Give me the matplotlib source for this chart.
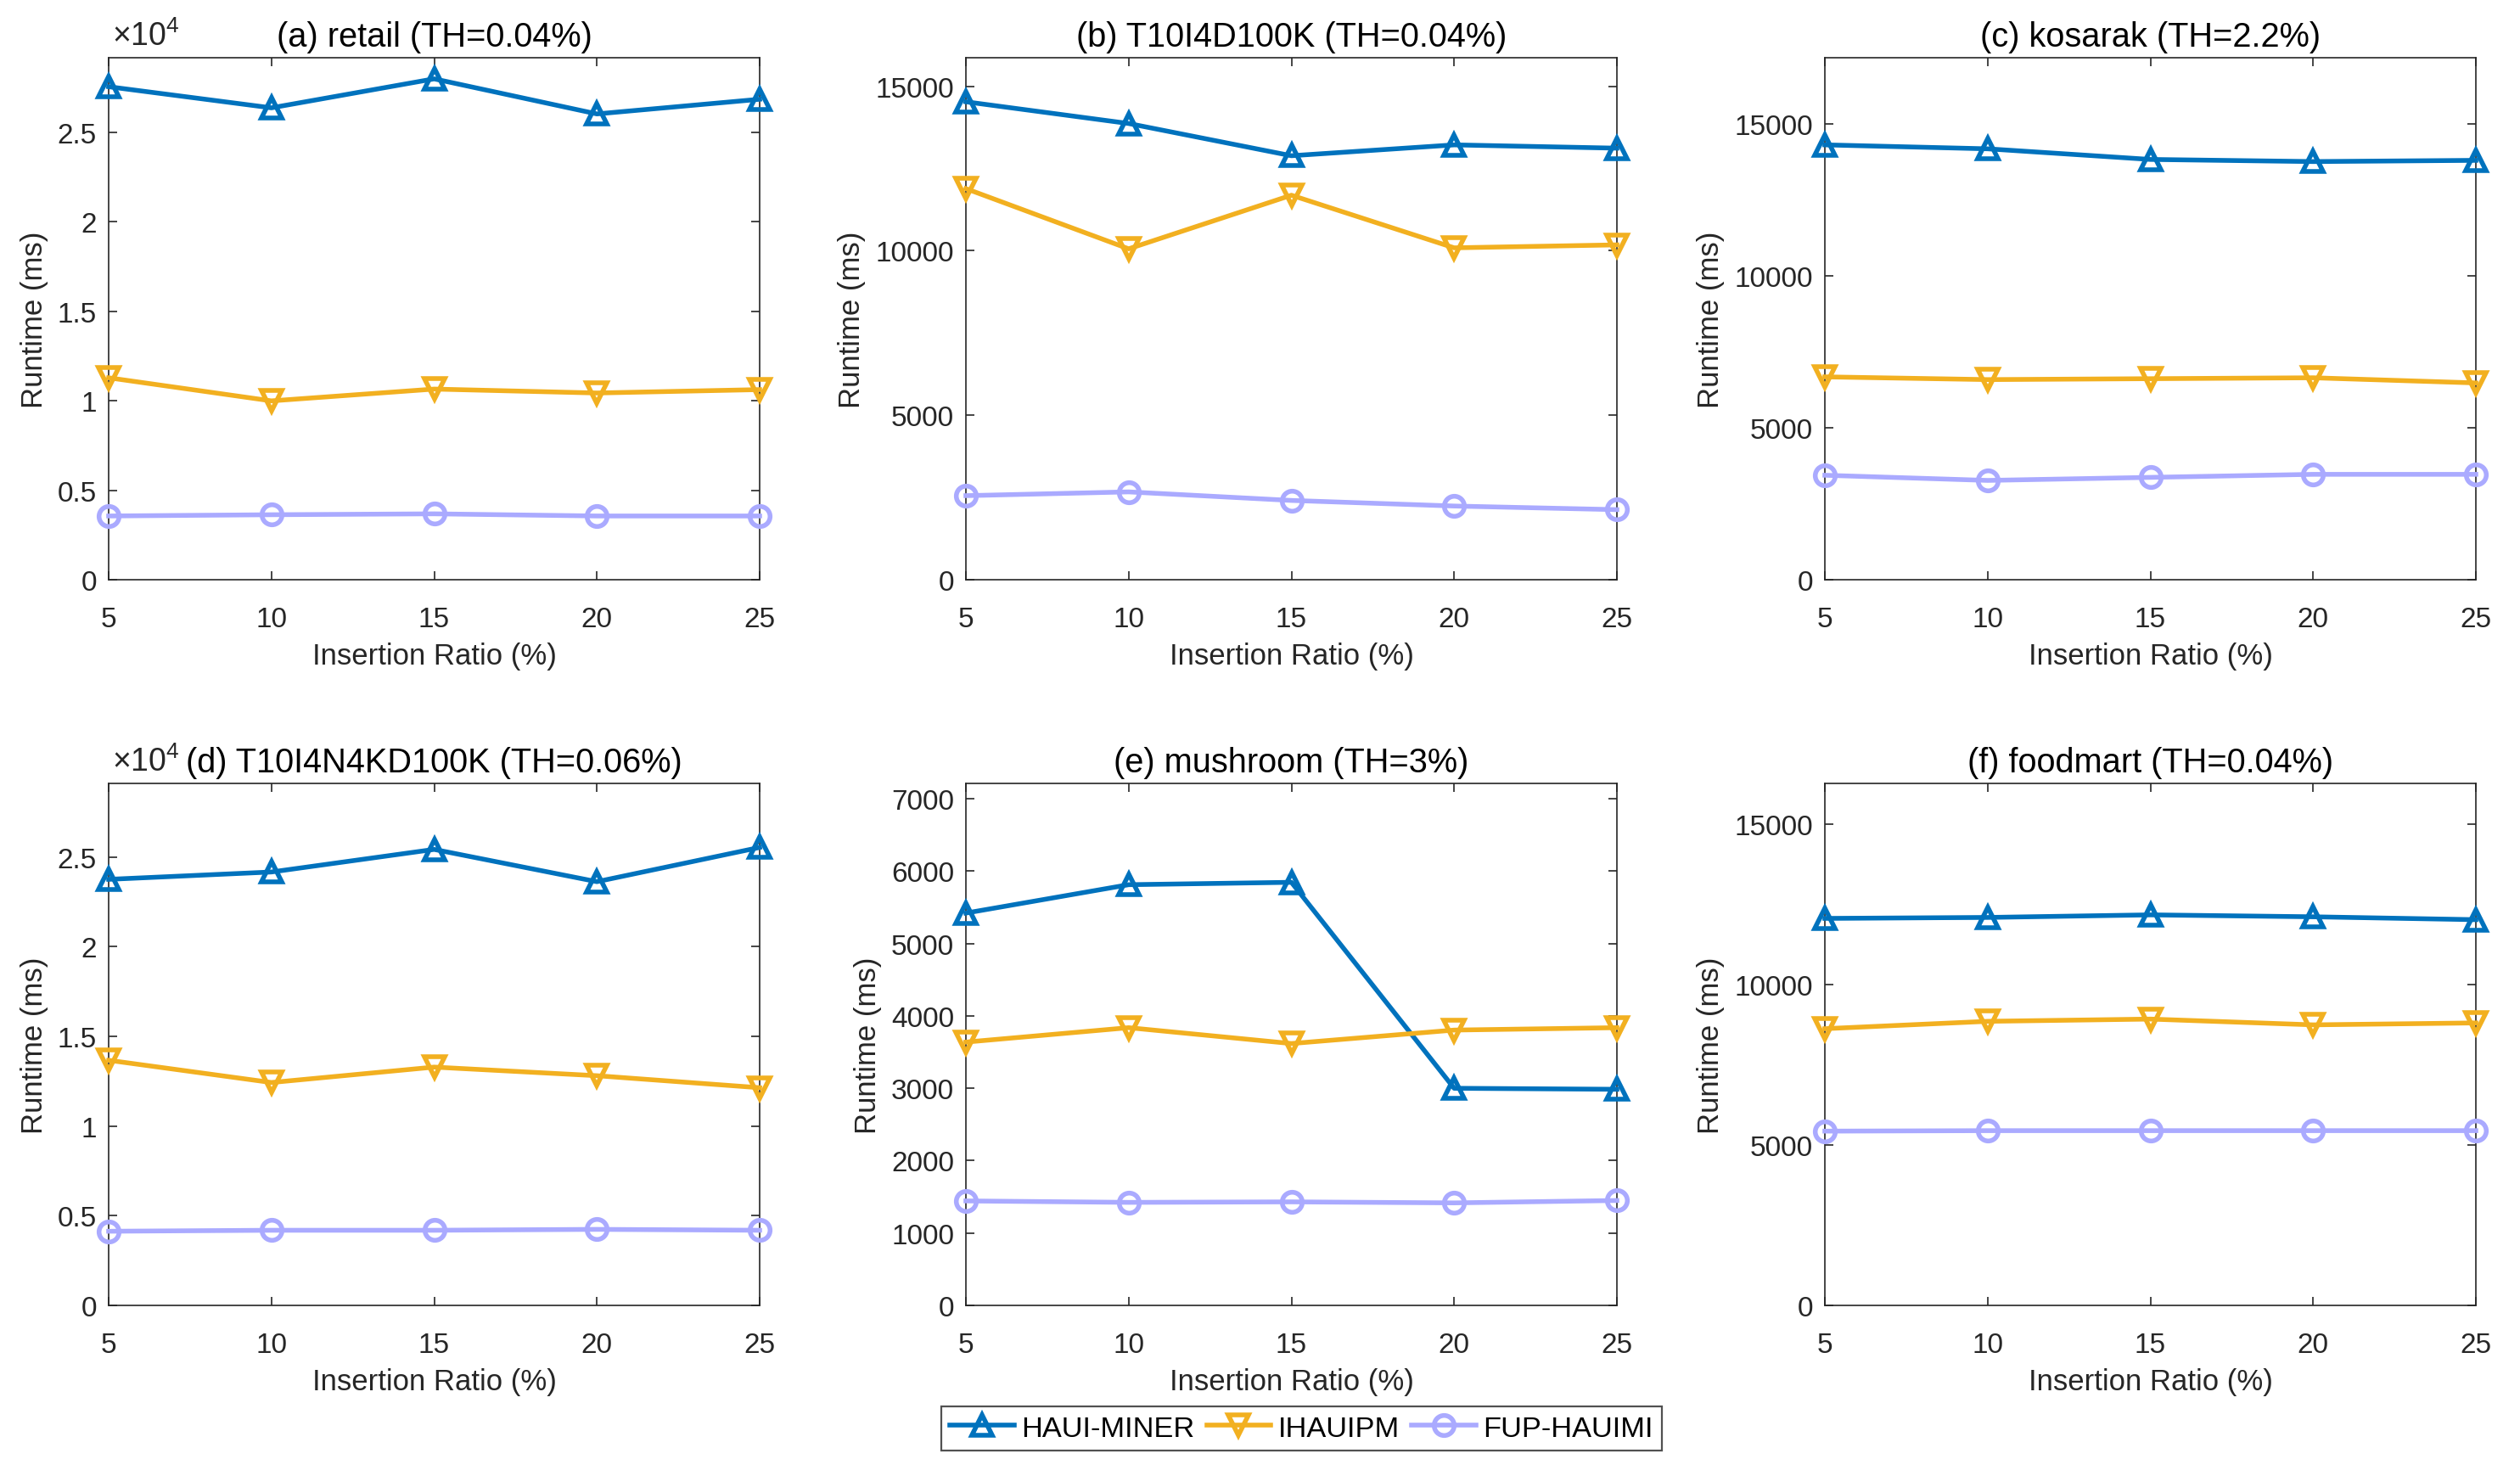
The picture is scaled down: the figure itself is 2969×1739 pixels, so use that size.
import matplotlib
matplotlib.use("Agg")
import matplotlib.pyplot as plt
from matplotlib.ticker import FuncFormatter

plt.rcParams['font.family'] = ['Liberation Sans', 'DejaVu Sans']
plt.rcParams['mathtext.fontset'] = 'custom'
plt.rcParams['mathtext.rm'] = 'Liberation Sans'
plt.rcParams['mathtext.default'] = 'regular'

# Data
ratios = [5, 10, 15, 20, 25]
methods = ["HAUI-MINER", "IHAUIPM", "FUP-HAUIMI"]

titles = [
    "(a) retail (TH=0.04%)",
    "(b) T10I4D100K (TH=0.04%)",
    "(c) kosarak (TH=2.2%)",
    "(d) T10I4N4KD100K (TH=0.06%)",
    "(e) mushroom (TH=3%)",
    "(f) foodmart (TH=0.04%)",
]

retail_haui = [27540, 26360, 27980, 26020, 26840]
retail_ihau = [11280, 9990, 10650, 10430, 10620]
retail_fup = [3560, 3630, 3680, 3560, 3560]

t10_haui = [14530, 13870, 12890, 13220, 13120]
t10_ihau = [11890, 10060, 11690, 10090, 10180]
t10_fup = [2555, 2670, 2410, 2240, 2130]

kosarak_haui = [14320, 14190, 13840, 13770, 13810]
kosarak_ihau = [6680, 6590, 6620, 6650, 6480]
kosarak_fup = [3440, 3270, 3370, 3470, 3470]

t10n4_haui = [23760, 24170, 25430, 23630, 25540]
t10n4_ihau = [13670, 12430, 13290, 12810, 12140]
t10n4_fup = [4135, 4190, 4190, 4240, 4190]

mush_haui = [5419, 5811, 5844, 2999, 2985]
mush_ihau = [3637, 3836, 3617, 3803, 3836]
mush_fup = [1443, 1423, 1430, 1416, 1449]

food_haui = [12070, 12100, 12180, 12120, 12030]
food_ihau = [8630, 8860, 8930, 8750, 8810]
food_fup = [5435, 5450, 5450, 5450, 5450]

series = [
    (retail_haui, retail_ihau, retail_fup),
    (t10_haui, t10_ihau, t10_fup),
    (kosarak_haui, kosarak_ihau, kosarak_fup),
    (t10n4_haui, t10n4_ihau, t10n4_fup),
    (mush_haui, mush_ihau, mush_fup),
    (food_haui, food_ihau, food_fup),
]

y_max = [29160, 15870, 17190, 29110, 7210, 16280]
y_step = [5000, 5000, 5000, 5000, 1000, 5000]
scaled = [True, False, False, True, False, False]

colors = ['#0072BD', '#F2B020', '#AAAAFF']
markers = ['^', 'v', 'o']

fig = plt.figure(figsize=(14.845, 8.7), dpi=200)

lefts = [128, 1138, 2150]
tops = [69, 924]
W, H = 2969.0, 1740.0
aw, ah = 767, 615

axes = []
for i in range(6):
    r, c = divmod(i, 3)
    ax = fig.add_axes([lefts[c] / W, 1 - (tops[r] + ah) / H, aw / W, ah / H])
    axes.append(ax)

tick_fs = 12
label_fs = 12.5
title_fs = 14.3
for i, ax in enumerate(axes):
    handles = []
    for vals, col, mk, name in zip(series[i], colors, markers, methods):
        h, = ax.plot(ratios, vals, color=col, marker=mk, markersize=8.5,
                     markerfacecolor='none', markeredgewidth=2.0,
                     linewidth=2.0, label=name, clip_on=False, zorder=3)
        handles.append(h)
    ax.set_xlim(5, 25)
    ax.set_ylim(0, y_max[i])
    ax.set_xticks(ratios)
    ticks = list(range(0, y_max[i] + 1, y_step[i]))
    ax.set_yticks(ticks)
    if scaled[i]:
        ax.yaxis.set_major_formatter(FuncFormatter(lambda v, p: f"{v / 1e4:g}"))
        ax.text(0.005, 1.012, r'$\times10^{4}$', transform=ax.transAxes,
                fontsize=13.5, color='#262626', ha='left', va='bottom')
    ax.tick_params(direction='in', top=True, right=True, length=3.5,
                   width=0.6, colors='#262626', labelsize=tick_fs)
    ax.tick_params(axis='x', pad=11)
    ax.tick_params(axis='y', pad=5)
    for s in ax.spines.values():
        s.set_linewidth(0.6)
        s.set_color('#262626')
    ax.set_title(titles[i], fontsize=title_fs, pad=5, color='black')
    ax.set_xlabel("Insertion Ratio (%)", fontsize=label_fs, color='#262626', labelpad=4)
    ax.set_ylabel("Runtime (ms)", fontsize=label_fs, color='#262626', labelpad=4)

leg = fig.legend(handles, methods, loc='center', bbox_to_anchor=(0.5165, 0.0322),
                 ncol=3, fontsize=12.4, frameon=True, fancybox=False,
                 handlelength=2.2, columnspacing=0.4, handletextpad=0.25,
                 borderpad=0.3, borderaxespad=0.0, markerscale=1.0)
leg.get_frame().set_edgecolor('#262626')
leg.get_frame().set_linewidth(0.8)

fig.savefig("out.png", dpi=200)
